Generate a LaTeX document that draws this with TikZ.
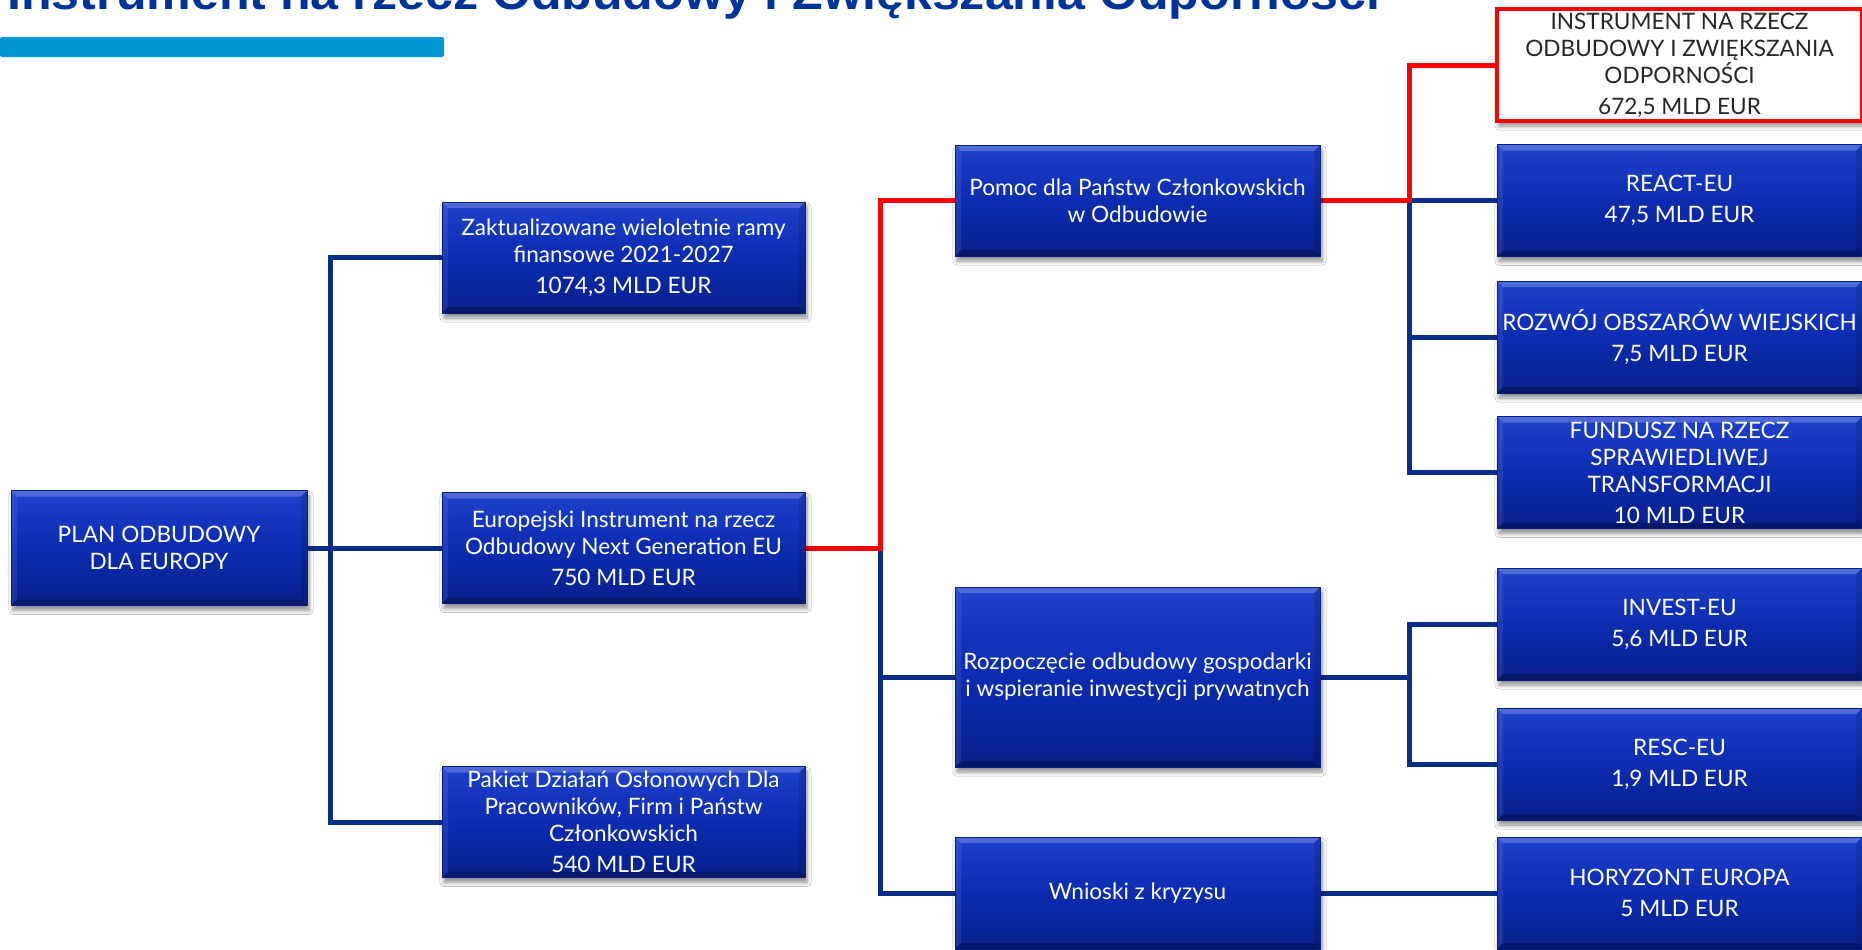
\documentclass[tikz,border=0pt]{standalone}
\usepackage{fontspec}
\usepackage{graphicx}
\setmainfont{Lato}
\newfontfamily\titlefont{Liberation Sans}
\usetikzlibrary{shadows.blur}
\definecolor{boxtop}{RGB}{30,66,204}
\definecolor{boxmid}{RGB}{12,44,176}
\definecolor{boxbot}{RGB}{8,32,140}
\definecolor{connblue}{RGB}{10,45,140}
\definecolor{connred}{RGB}{255,0,0}
\definecolor{titleblue}{RGB}{0,51,153}
\definecolor{barblue}{RGB}{0,150,214}
\pgfdeclarelayer{bg}
\pgfsetlayers{bg,main}
\tikzset{
  basebox/.style={align=center, inner sep=0pt,
    font=\fontsize{11.3}{13.5}\selectfont,
    blur shadow={shadow xshift=1pt, shadow yshift=-2.5pt, shadow blur steps=6, shadow opacity=45}},
  bluebox/.style={basebox, draw=boxbot, line width=0.5pt,
    top color=boxtop, bottom color=boxbot, middle color=boxmid, text=white,
    path picture={
      \fill[white,opacity=0.22] (path picture bounding box.north west) -- (path picture bounding box.north east)
        -- ([shift={(-3pt,-3pt)}]path picture bounding box.north east) -- ([shift={(3pt,-3pt)}]path picture bounding box.north west) -- cycle;
      \fill[black,opacity=0.25] (path picture bounding box.south west) -- (path picture bounding box.south east)
        -- ([shift={(-3pt,3pt)}]path picture bounding box.south east) -- ([shift={(3pt,3pt)}]path picture bounding box.south west) -- cycle;
      \fill[white,opacity=0.08] (path picture bounding box.north west) -- ([shift={(3pt,-3pt)}]path picture bounding box.north west)
        -- ([shift={(3pt,3pt)}]path picture bounding box.south west) -- (path picture bounding box.south west) -- cycle;
      \fill[black,opacity=0.12] (path picture bounding box.north east) -- ([shift={(-3pt,-3pt)}]path picture bounding box.north east)
        -- ([shift={(-3pt,3pt)}]path picture bounding box.south east) -- (path picture bounding box.south east) -- cycle;
    }},
  redbox/.style={basebox, draw=connred, line width=1.75pt, fill=white, text=black!85},
  plainbox/.style={bluebox, minimum width=148pt, minimum height=57.5pt},
  colb/.style={bluebox, minimum width=181.5pt, minimum height=55.5pt},
  colc/.style={bluebox, minimum width=182.5pt, minimum height=55.5pt},
  cold/.style={bluebox, minimum width=182.5pt, minimum height=56pt},
  bconn/.style={draw=connblue, line width=2.5pt},
  rconn/.style={draw=connred, line width=2.5pt},
}
\begin{document}
\begin{tikzpicture}[x=0.5pt,y=-0.5pt]
\useasboundingbox (0,0) rectangle (1862,949);

% title (cut off at the top edge)
\node[anchor=base west, inner sep=0pt, text=titleblue] (title) at (7,9)
  {\resizebox{686.5pt}{\height}{\titlefont\bfseries\fontsize{23.5}{28}\selectfont Instrument na rzecz Odbudowy i Zwiększania Odporności}};
\fill[barblue, rounded corners=1pt] (0,37) rectangle (444,57);

% column 1
\node[plainbox] (plan) at (159,548) {PLAN ODBUDOWY\\DLA EUROPY};

% column 2
\node[colb] (zak) at (623.5,257.5) {Zaktualizowane wieloletnie ramy\\finansowe 2021-2027\\[2pt]1074,3 MLD EUR};
\node[colb] (eur) at (623.5,548) {Europejski Instrument na rzecz\\Odbudowy Next Generation EU\\[2pt]750 MLD EUR};
\node[colb] (pak) at (623.5,822) {Pakiet Działań Osłonowych Dla\\Pracowników, Firm i Państw\\Członkowskich\\[2pt]540 MLD EUR};

% column 3
\node[colc] (pom) at (1137.5,200.5) {Pomoc dla Państw Członkowskich\\w Odbudowie};
\node[colc, minimum height=90pt] (roz) at (1137.5,677) {Rozpoczęcie odbudowy gospodarki\\i wspieranie inwestycji prywatnych};
\node[colc, minimum height=56pt] (wni) at (1137.5,893) {Wnioski z kryzysu};

% column 4
\node[redbox, minimum width=182.5pt, minimum height=56pt] (ins) at (1679.5,65) {INSTRUMENT NA RZECZ\\ODBUDOWY I ZWIĘKSZANIA\\ODPORNOŚCI\\[2pt]672,5 MLD EUR};
\node[cold] (rea) at (1679.5,200.5) {REACT-EU\\[2pt]47,5 MLD EUR};
\node[cold] (rzw) at (1679.5,337) {ROZWÓJ OBSZARÓW WIEJSKICH\\[2pt]7,5 MLD EUR};
\node[cold] (fun) at (1679.5,472.5) {FUNDUSZ NA RZECZ\\SPRAWIEDLIWEJ\\TRANSFORMACJI\\[2pt]10 MLD EUR};
\node[cold] (inv) at (1679.5,624) {INVEST-EU\\[2pt]5,6 MLD EUR};
\node[cold] (res) at (1679.5,764) {RESC-EU\\[2pt]1,9 MLD EUR};
\node[cold] (hor) at (1679.5,893) {HORYZONT EUROPA\\[2pt]5 MLD EUR};

\coordinate (b1) at (330,0);
\coordinate (b2) at (880,0);
\coordinate (b3) at (1409,0);

\begin{pgfonlayer}{bg}
  \fill[white] (0,0) rectangle (1862,949);
  \draw[bconn] (plan.east) -- (eur.west);
  \draw[bconn] (zak.west) -- (zak.west -| b1) -- (pak.west -| b1) -- (pak.west);
  \draw[bconn] (eur.east -| b2) -- (wni.west -| b2) -- (wni.west);
  \draw[bconn] (roz.west -| b2) -- (roz.west);
  \draw[bconn] (pom.east -| b3) -- (fun.west -| b3) -- (fun.west);
  \draw[bconn] (pom.east -| b3) -- (rea.west);
  \draw[bconn] (rzw.west -| b3) -- (rzw.west);
  \draw[bconn] (roz.east) -- (roz.east -| b3);
  \draw[bconn] (inv.west) -- (inv.west -| b3) -- (res.west -| b3) -- (res.west);
  \draw[bconn] (wni.east) -- (hor.west);
  \draw[rconn] (eur.east) -- (eur.east -| b2) -- (pom.west -| b2) -- (pom.west);
  \draw[rconn] (pom.east) -- (pom.east -| b3) -- (ins.west -| b3) -- (ins.west);
\end{pgfonlayer}
\end{tikzpicture}
\end{document}
